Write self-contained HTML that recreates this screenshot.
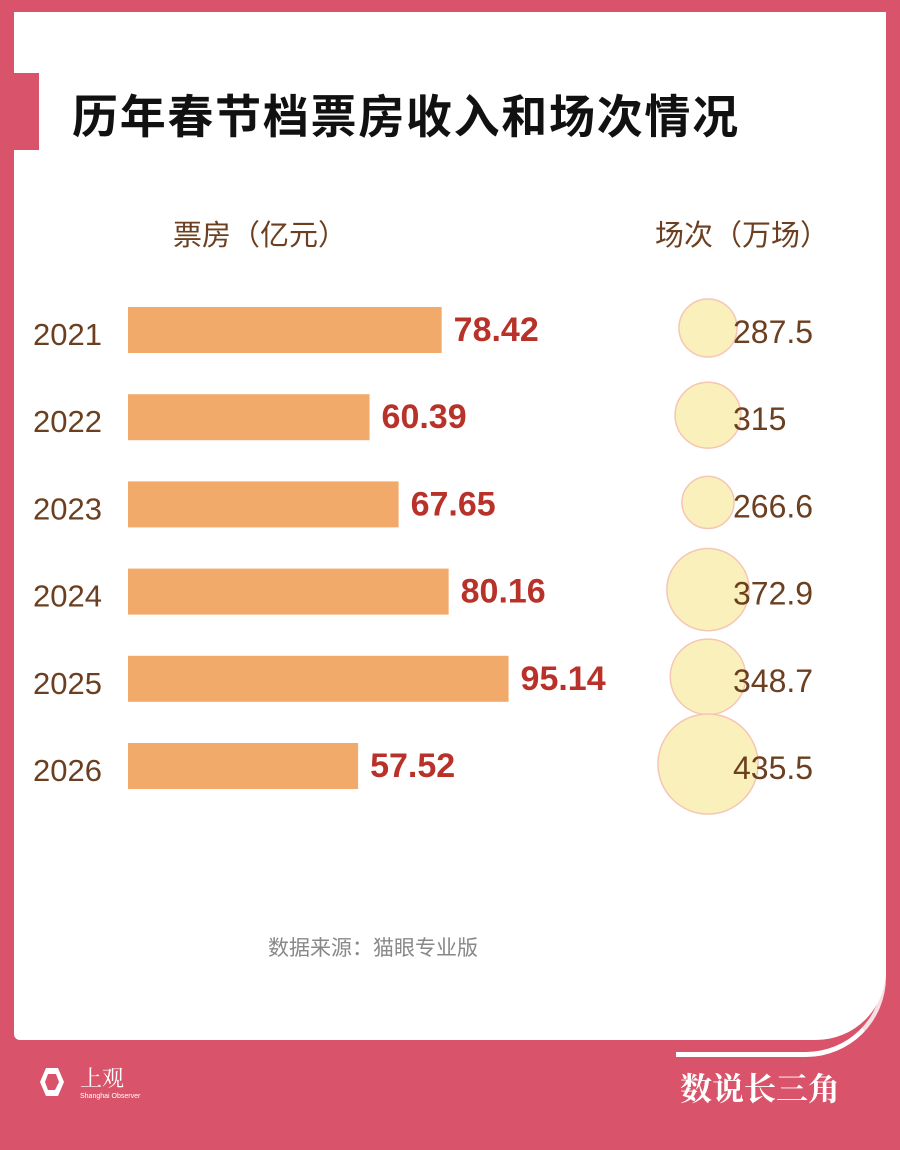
<!DOCTYPE html>
<html><head><meta charset="utf-8">
<style>
html,body{margin:0;padding:0}
body{width:900px;height:1150px;background:#D9546A;position:relative;overflow:hidden;font-family:"Liberation Sans","Noto Sans CJK SC",sans-serif}
#card{position:absolute;left:14px;top:12px;width:872px;height:1028px;background:#fff;border-bottom-right-radius:70px;border-bottom-left-radius:6px}
#accent{position:absolute;left:14px;top:73px;width:25px;height:77px;background:#D9546A}
#title{position:absolute;left:72px;top:84px;font-size:46px;font-weight:bold;color:#111;letter-spacing:1.7px;font-family:"Noto Sans CJK SC",sans-serif;line-height:60px;white-space:nowrap}
.hdr{position:absolute;top:212px;font-size:29px;color:#6b3f1f;font-family:"Noto Sans CJK SC",sans-serif;line-height:42px;white-space:nowrap}
#src{position:absolute;left:268px;top:932px;font-size:21px;color:#888;font-family:"Noto Sans CJK SC",sans-serif;white-space:nowrap}
#brand{position:absolute;left:680px;top:1064px;font-size:32px;font-weight:bold;color:#fff;font-family:"Noto Serif CJK SC",serif;white-space:nowrap}
#curve{position:absolute;left:676px;top:930px;width:210px;height:127px;border-right:4px solid #f8dfe3;border-bottom:5px solid #fff;border-bottom-right-radius:80px;box-sizing:border-box}
#logo{position:absolute;left:36px;top:1064px;color:#fff}
</style></head><body>
<div id="curve"></div>
<div id="card"></div>
<div id="accent"></div>
<div id="title">历年春节档票房收入和场次情况</div>
<div class="hdr" style="left:173px">票房（亿元）</div>
<div class="hdr" style="left:655px">场次（万场）</div>
<svg id="chart" width="900" height="1150" style="position:absolute;left:0;top:0"></svg>
<div id="src">数据来源：猫眼专业版</div>
<div id="logo">
<svg width="120" height="40"><polygon points="10,4 22,4 28,18 22,32 10,32 4,18" fill="#fff"/><polygon points="12,10 20,10 23,18 19,26 12,26 9,18" fill="#D9546A"/><text x="44" y="22" font-size="22" fill="#fff" font-family="Noto Serif CJK SC,serif">上观</text><text x="44" y="34" font-size="7" fill="#fff" font-family="Liberation Sans,sans-serif">Shanghai Observer</text></svg>
</div>
<div id="brand">数说长三角</div>
<script>
const years=["2021","2022","2023","2024","2025","2026"];
const boxOffice=[78.42,60.39,67.65,80.16,95.14,57.52];
const boxLabels=["78.42","60.39","67.65","80.16","95.14","57.52"];
const screenings=[287.5,315,266.6,372.9,348.7,435.5];
const screenLabels=["287.5","315","266.6","372.9","348.7","435.5"];
const ns="http://www.w3.org/2000/svg";
const svg=document.getElementById('chart');
const x=v=>128+v*4.0;
const y=i=>330+i*87.2;
const r=v=>0.142*v-11.8;
function mk(t,a){const e=document.createElementNS(ns,t);for(const k in a)e.setAttribute(k,a[k]);svg.appendChild(e);return e;}
years.forEach((yr,i)=>{
  const cy=y(i);
  let t=mk('text',{x:33,y:cy+15,'font-size':31,fill:'#6b3f1f','font-family':'Liberation Sans,sans-serif'});t.textContent=yr;
  
  
  const b=mk('rect',{x:128,y:cy-23,width:x(boxOffice[i])-128,height:46,fill:'#F2AA6A'});
  
  
  t=mk('text',{x:x(boxOffice[i])+12,y:cy+11,'font-size':34,'font-weight':'bold',fill:'#B8322A','font-family':'Liberation Sans,sans-serif'});t.textContent=boxLabels[i];
  
  
  const c=mk('circle',{cx:708,cy:cy-2,r:r(screenings[i]),fill:'#FAF0BC',stroke:'#F6C6B4','stroke-width':1.5});
  
  
  t=mk('text',{x:733,y:cy+13,'font-size':32,fill:'#6b3f1f','font-family':'Liberation Sans,sans-serif'});t.textContent=screenLabels[i];
  
  
});
</script>
</body></html>
